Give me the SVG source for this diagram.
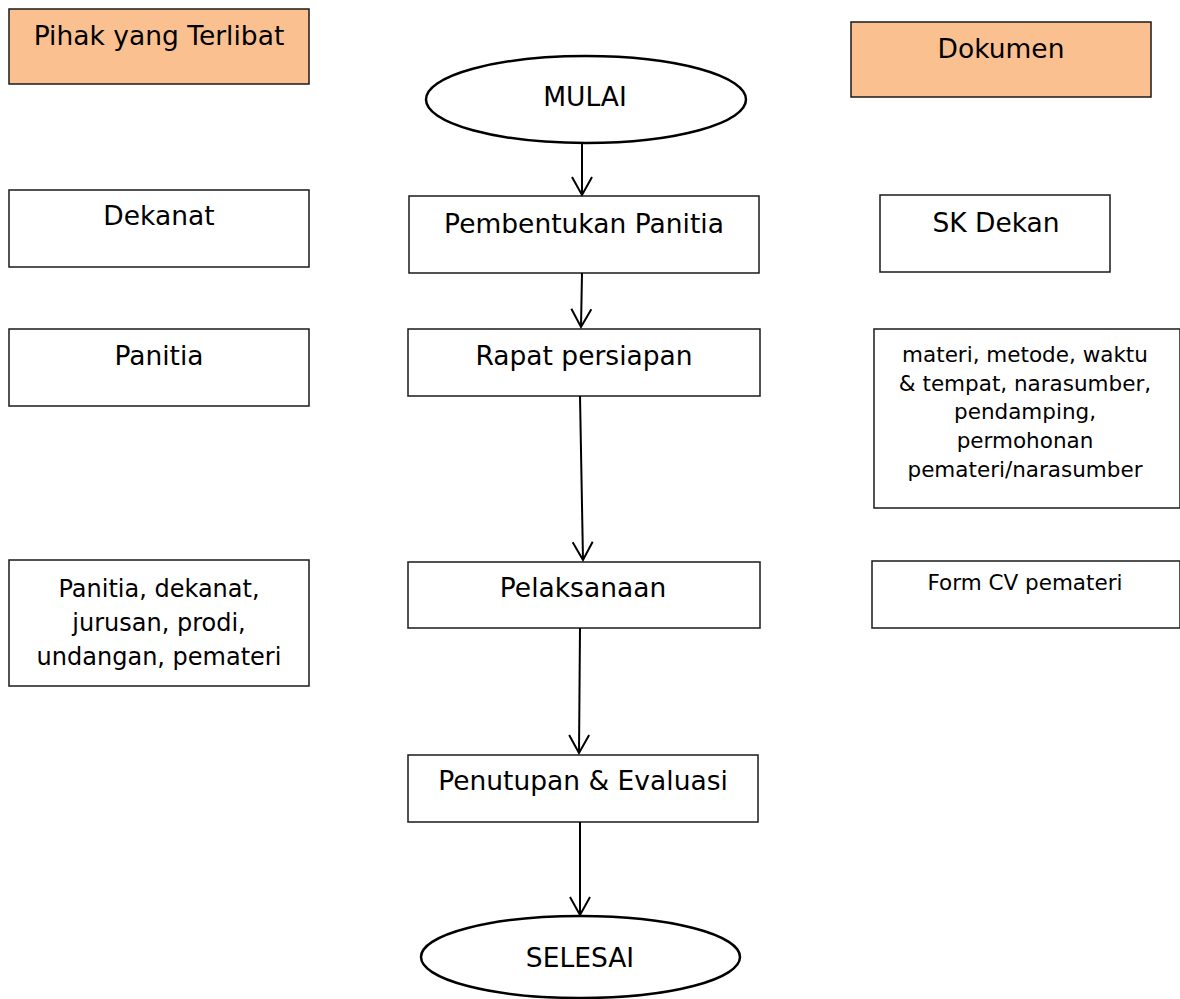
<svg xmlns="http://www.w3.org/2000/svg" width="1180" height="999" viewBox="0 0 1180 999">
  <style>
    .box { fill: #ffffff; stroke: #1a1a1a; stroke-width: 1.5; }
    .head { fill: #FAC090; stroke: #1a1a1a; stroke-width: 1.5; }
    .term { fill: #ffffff; stroke: #000000; stroke-width: 2.5; }
    .t { font-family: "DejaVu Sans", "Liberation Sans", sans-serif; fill: #000000; text-anchor: middle; }
    .lg { font-size: 26.5px; }
    .md { font-size: 24px; }
    .sm { font-size: 21.5px; }
    .flow { fill: none; stroke: #000000; stroke-width: 2; }
  </style>
  <defs>
    <marker id="vhead" markerUnits="userSpaceOnUse" markerWidth="24" markerHeight="24" viewBox="-20 -12 22 24" refX="0" refY="0" orient="auto">
      <path d="M-18,-10 L0,0 L-18,10" fill="none" stroke="#000000" stroke-width="2"/>
    </marker>
  </defs>

  <rect width="1180" height="999" fill="#ffffff"/>

  <!-- column headers -->
  <g id="hdr-pihak">
    <rect class="head" x="9" y="9" width="300" height="75"/>
    <text class="t lg" x="159" y="45">Pihak yang Terlibat</text>
  </g>
  <g id="hdr-dokumen">
    <rect class="head" x="851" y="22" width="300" height="75"/>
    <text class="t lg" x="1001" y="58">Dokumen</text>
  </g>

  <!-- process flow -->
  <g id="mulai">
    <ellipse class="term" cx="586" cy="99.5" rx="160" ry="43.5"/>
    <text class="t lg" x="585" y="106">MULAI</text>
  </g>
  <g id="pembentukan">
    <rect class="box" x="409" y="196" width="350" height="77"/>
    <text class="t lg" x="584" y="233">Pembentukan Panitia</text>
  </g>
  <g id="rapat">
    <rect class="box" x="408" y="329" width="352" height="67"/>
    <text class="t lg" x="584" y="365">Rapat persiapan</text>
  </g>
  <g id="pelaksanaan">
    <rect class="box" x="408" y="562" width="352" height="66"/>
    <text class="t lg" x="583" y="597">Pelaksanaan</text>
  </g>
  <g id="penutupan">
    <rect class="box" x="408" y="755" width="350" height="67"/>
    <text class="t lg" x="583" y="790">Penutupan &amp; Evaluasi</text>
  </g>
  <g id="selesai">
    <ellipse class="term" cx="580.5" cy="957" rx="159.5" ry="41"/>
    <text class="t lg" x="580" y="967">SELESAI</text>
  </g>

  <!-- parties involved -->
  <g id="p-dekanat">
    <rect class="box" x="9" y="190" width="300" height="77"/>
    <text class="t lg" x="159" y="225">Dekanat</text>
  </g>
  <g id="p-panitia">
    <rect class="box" x="9" y="329" width="300" height="77"/>
    <text class="t lg" x="159" y="365">Panitia</text>
  </g>
  <g id="p-pelaksanaan">
    <rect class="box" x="9" y="560" width="300" height="126"/>
    <text class="t md" x="159" y="597">Panitia, dekanat,</text>
    <text class="t md" x="159" y="631">jurusan, prodi,</text>
    <text class="t md" x="159" y="665">undangan, pemateri</text>
  </g>

  <!-- documents -->
  <g id="d-sk">
    <rect class="box" x="880" y="195" width="230" height="77"/>
    <text class="t lg" x="996" y="232">SK Dekan</text>
  </g>
  <g id="d-rapat">
    <rect class="box" x="874" y="329" width="306" height="179"/>
    <text class="t sm" x="1025" y="362">materi, metode, waktu</text>
    <text class="t sm" x="1025" y="391">&amp; tempat, narasumber,</text>
    <text class="t sm" x="1025" y="419">pendamping,</text>
    <text class="t sm" x="1025" y="448">permohonan</text>
    <text class="t sm" x="1025" y="477">pemateri/narasumber</text>
  </g>
  <g id="d-cv">
    <rect class="box" x="872" y="561" width="308" height="67"/>
    <text class="t sm" x="1025" y="590">Form CV pemateri</text>
  </g>

  <!-- connectors -->
  <g id="connectors">
    <line class="flow" x1="582" y1="143" x2="582" y2="195" marker-end="url(#vhead)"/>
    <line class="flow" x1="582" y1="273" x2="581" y2="327" marker-end="url(#vhead)"/>
    <line class="flow" x1="580" y1="396" x2="583" y2="560" marker-end="url(#vhead)"/>
    <line class="flow" x1="580" y1="628" x2="579" y2="753" marker-end="url(#vhead)"/>
    <line class="flow" x1="580" y1="822" x2="580" y2="915" marker-end="url(#vhead)"/>
  </g>
</svg>
